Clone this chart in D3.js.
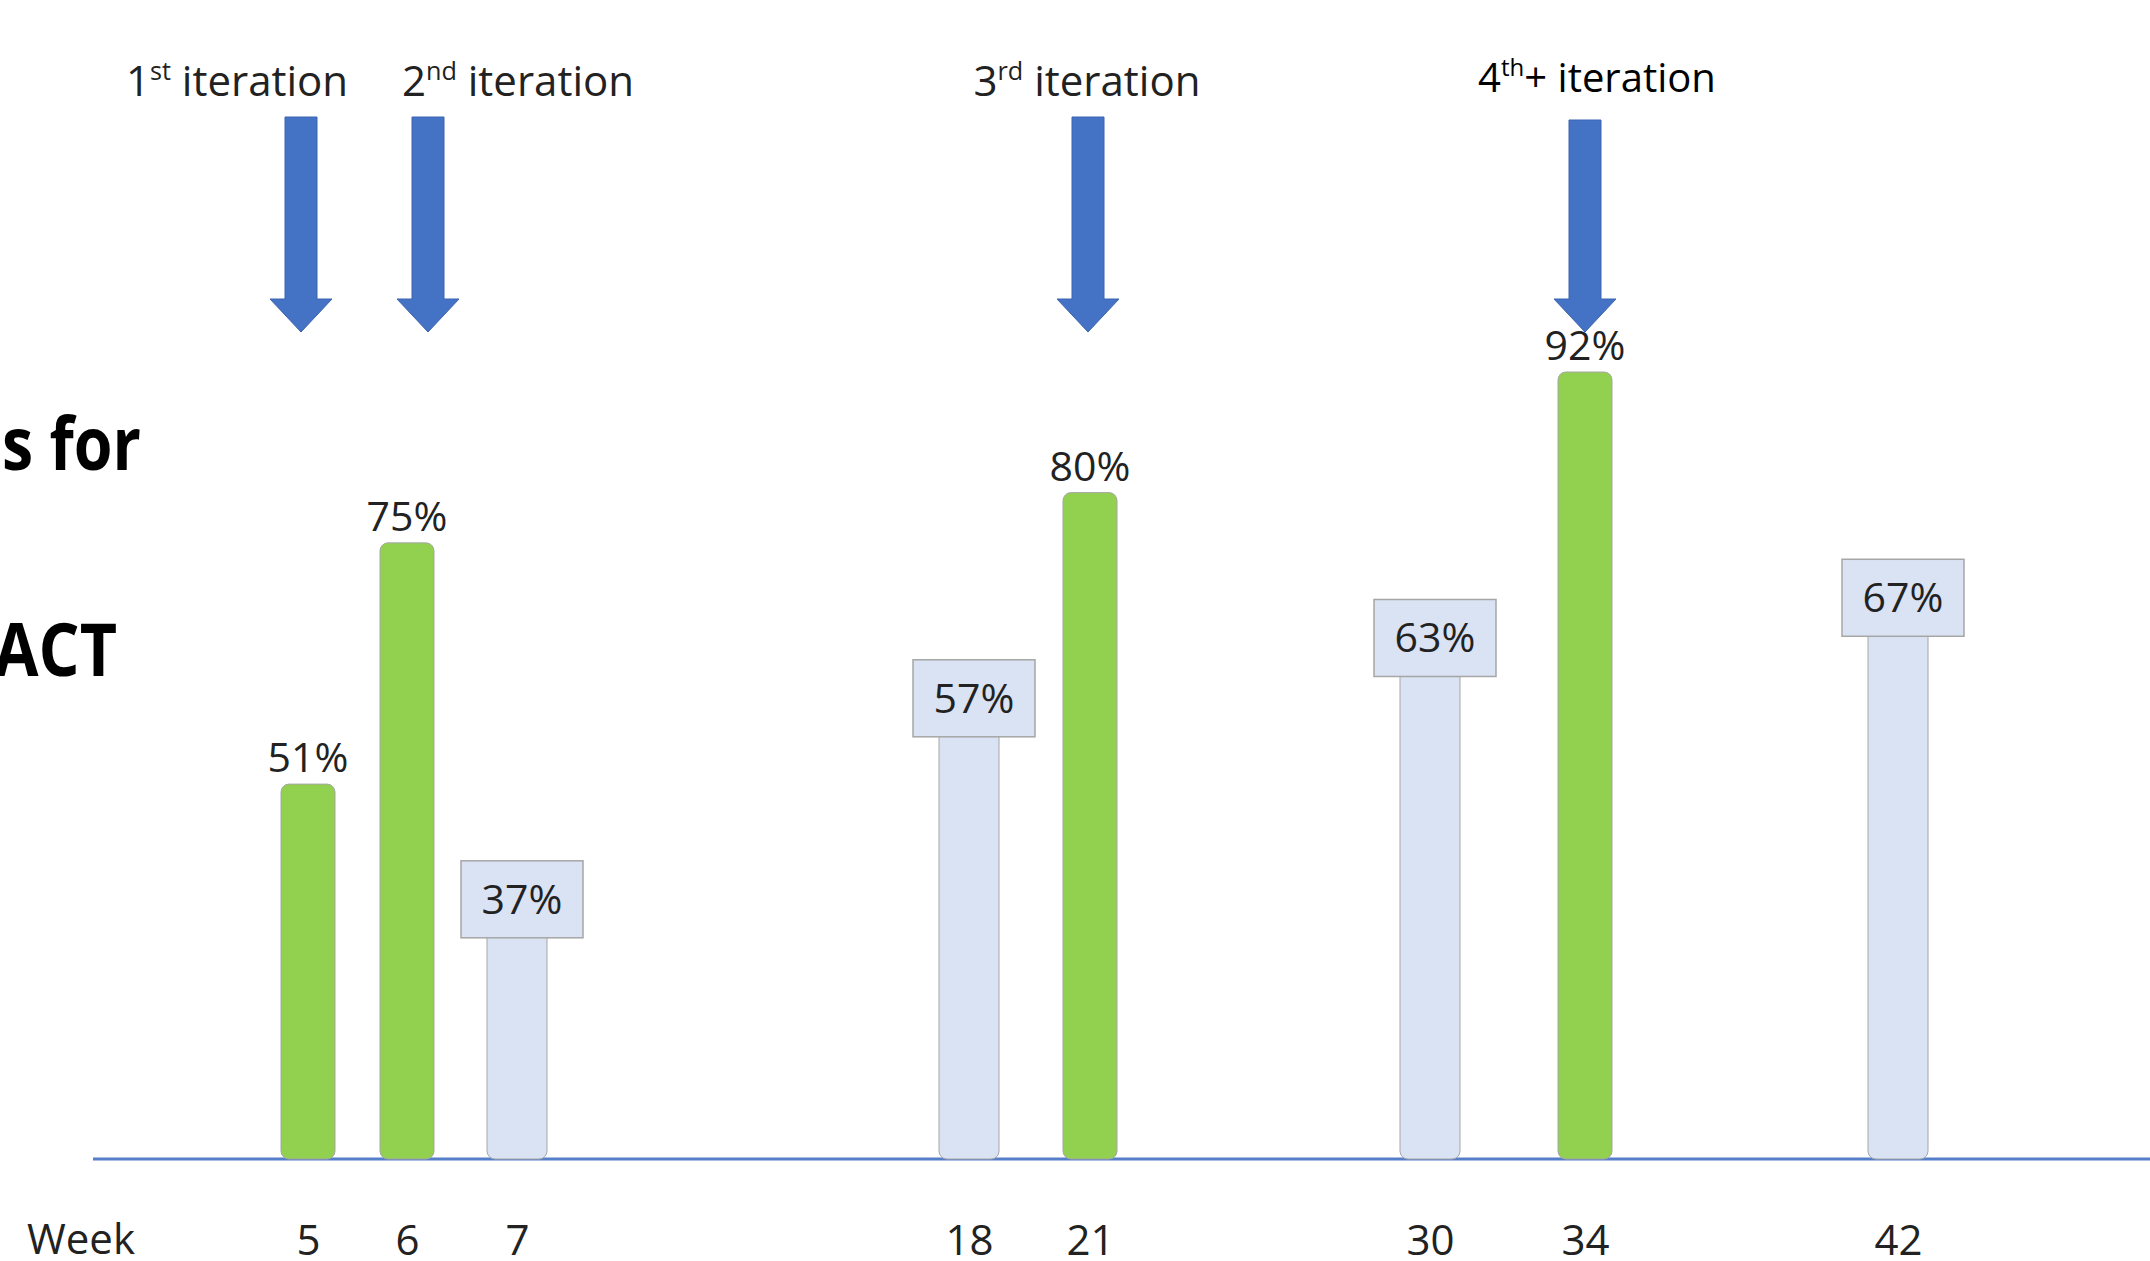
<!DOCTYPE html>
<html>
<head>
<meta charset="utf-8">
<script src="https://cdn.jsdelivr.net/npm/d3@7"></script>
<style>
  body { margin: 0; background: #fff; }
  #chart { width: 2150px; height: 1261px; }
  text { font-family: "Open Sans", "Noto Sans", sans-serif; }
</style>
</head>
<body>
<div id="chart"></div>
<script>
// data
const weeks = [5, 6, 7, 18, 21, 30, 34, 42];
const scores = [51, 75, 37, 57, 80, 63, 92, 67];
const kinds = ["iter", "iter", "check", "check", "iter", "check", "iter", "check"];
const iterationWeeks = [5, 6, 21, 34];
const iterationNums = ["1", "2", "3", "4"];
const iterationSups = ["st", "nd", "rd", "th"];
const iterationTails = ["", "", "", "+"];
const titleLines = ["s for", "ACT"];
const weekLabel = "Week";

const width = 2150;
const height = 1261;
const baseY = 1159;

// columns on the slide are not evenly spaced, so the week scale is piecewise
const columnX = [308, 407, 517, 969, 1090, 1430, 1585, 1898];
const arrowDx = [-7, 21, -2, 0];
const iterLabelDx = [-71, 111, -3, 12];

const svg = d3.select("#chart").append("svg").attr("width", width).attr("height", height).attr("viewBox", `0 0 ${width} ${height}`);

const x = d3.scaleLinear().domain(weeks).range(columnX);
const y = d3.scaleLinear().domain([13.7, 92]).range([baseY, 372]);

const green = "#92D050";
const light = "#DAE3F3";
const blue = "#4472C4";

const rows = weeks.map((w, i) => ({ week: w, value: scores[i], kind: kinds[i] }));

// title fragment clipped at the left edge
svg.selectAll("text.title").data(titleLines).join("text").attr("class", "title")
  .attr("x", (d, i) => [2, -6][i]).attr("y", (d, i) => [470, 676][i])
  .attr("textLength", (d, i) => [139, 123][i]).attr("lengthAdjust", "spacingAndGlyphs")
  .attr("font-size", 74).attr("font-weight", 700).attr("fill", "#000")
  .text((d) => d);

// baseline
svg.append("line").attr("x1", 93).attr("x2", width).attr("y1", baseY).attr("y2", baseY).attr("stroke", blue).attr("stroke-width", 3).attr("opacity", 0.9);

// bars
svg.selectAll("rect.bar").data(rows).join("rect").attr("class", "bar")
  .attr("x", (d) => x(d.week) - (d.kind === "iter" ? 27 : 30))
  .attr("width", (d) => (d.kind === "iter" ? 54 : 60))
  .attr("y", (d) => y(d.value))
  .attr("height", (d) => baseY - y(d.value))
  .attr("rx", 8)
  .attr("fill", (d) => (d.kind === "iter" ? green : light))
  .attr("stroke", "#a6a6a6").attr("stroke-width", 1);

// plain labels over green bars
svg.selectAll("text.val").data(rows.filter((d) => d.kind === "iter")).join("text").attr("class", "val")
  .attr("x", (d) => x(d.week)).attr("y", (d) => y(d.value) - 12)
  .attr("text-anchor", "middle").attr("font-size", 41).attr("fill", "#222")
  .text((d) => `${d.value}%`);

// boxed labels over light bars
const boxes = svg.selectAll("g.box").data(rows.filter((d) => d.kind === "check")).join("g").attr("class", "box")
  .attr("transform", (d) => `translate(${x(d.week) + 5},${y(d.value) - 26})`);
boxes.append("rect").attr("x", -61).attr("y", -38).attr("width", 122).attr("height", 77)
  .attr("fill", light).attr("stroke", "#a6a6a6").attr("stroke-width", 1.5);
boxes.append("text").attr("text-anchor", "middle").attr("y", 15).attr("font-size", 41).attr("fill", "#222")
  .text((d) => `${d.value}%`);

// iteration arrows
const arrow = (cx, top) => {
  const tip = 332, headTop = 299, sw = 16, hw = 31;
  return `M${cx - sw},${top}H${cx + sw}V${headTop}H${cx + hw}L${cx},${tip}L${cx - hw},${headTop}H${cx - sw}Z`;
};
svg.selectAll("path.arrow").data(iterationWeeks).join("path").attr("class", "arrow")
  .attr("d", (d, i) => arrow(x(d) + arrowDx[i], i === 3 ? 120 : 117))
  .attr("fill", blue).attr("stroke", "#3b65b0").attr("stroke-width", 1);

const labels = svg.selectAll("text.iter").data(iterationWeeks).join("text").attr("class", "iter")
  .attr("x", (d, i) => x(d) + iterLabelDx[i]).attr("y", (d, i) => (i === 3 ? 92 : 96))
  .attr("text-anchor", "middle").attr("font-size", (d, i) => (i === 3 ? 40 : 42))
  .attr("fill", (d, i) => (i === 3 ? "#000" : "#222"));
labels.append("tspan").text((d, i) => iterationNums[i]);
labels.append("tspan").attr("font-size", "0.6em").attr("dy", -16).text((d, i) => iterationSups[i]);
labels.append("tspan").attr("dy", 16).text((d, i) => `${iterationTails[i]} iteration`);

// week axis
const axis = svg.append("g").attr("transform", `translate(0,${baseY})`)
  .call(d3.axisBottom(x).tickValues(weeks).tickFormat(d3.format("d")).tickSize(0).tickPadding(66));
axis.select(".domain").remove();
axis.selectAll("text").attr("font-size", 42).attr("fill", "#222").attr("font-family", "Open Sans, sans-serif");

svg.append("text").attr("x", 27).attr("y", 1254).attr("font-size", 42).attr("fill", "#222").text(weekLabel);
</script>
</body>
</html>
